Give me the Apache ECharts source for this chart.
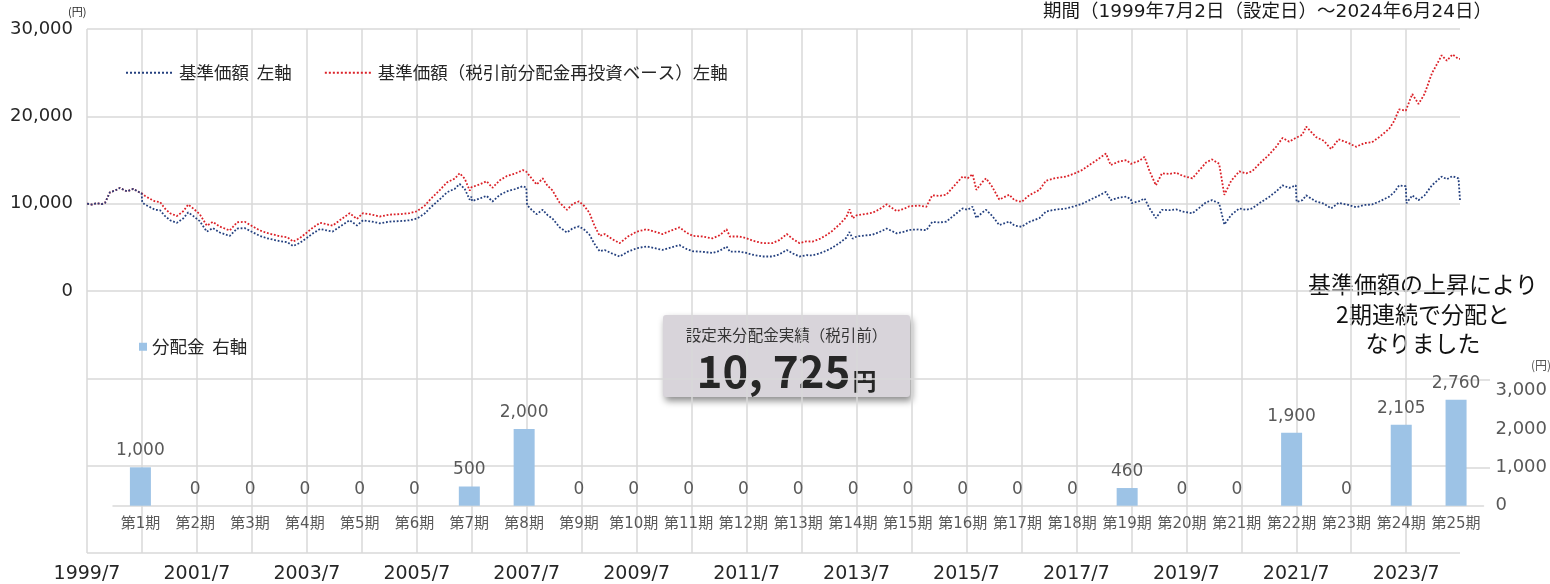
<!DOCTYPE html>
<html>
<head>
<meta charset="utf-8">
<script src="https://cdn.jsdelivr.net/npm/echarts@6/dist/echarts.min.js"></script>
<style>
html,body{margin:0;padding:0;background:#fff;}
#c{width:1550px;height:584px;}
</style>
</head>
<body>
<div id="c"></div>
<script>
// ---- data ----
const dates = [
'1999/07/02','1999/08/03','1999/09/06','1999/10/08','1999/10/30','1999/12/01','2000/01/05','2000/02/06','2000/03/25','2000/05/04','2000/06/14','2000/06/29',
'2000/07/03','2000/07/20','2000/08/25','2000/09/28','2000/10/30','2000/12/01','2001/01/05','2001/02/20','2001/04/01','2001/05/04','2001/06/06','2001/07/20',
'2001/09/06','2001/10/16','2001/12/01','2002/02/06','2002/03/25','2002/05/15','2002/07/09','2002/08/25','2002/10/08','2003/01/05','2003/02/24','2003/04/01',
'2003/05/15','2003/07/02','2003/08/11','2003/09/28','2003/11/10','2003/12/20','2004/02/06','2004/04/12','2004/05/30','2004/07/09','2004/09/06','2004/10/30',
'2005/01/05','2005/03/10','2005/05/15','2005/07/02','2005/08/25','2005/09/28','2005/12/01','2006/01/19','2006/03/10','2006/04/12','2006/05/15','2006/06/18',
'2006/06/30','2006/07/03','2006/08/25','2006/10/08','2006/11/17','2007/01/05','2007/02/20','2007/04/12','2007/06/06','2007/06/29','2007/07/03','2007/08/03',
'2007/09/06','2007/10/16','2007/11/17','2007/12/20','2008/02/06','2008/03/25','2008/05/04','2008/06/14','2008/07/20','2008/08/22','2008/09/25','2008/10/30',
'2008/12/01','2009/01/19','2009/03/10','2009/05/04','2009/07/02','2009/09/06','2009/10/30','2009/12/20','2010/02/20','2010/04/12','2010/05/30','2010/07/09',
'2010/09/12','2010/11/17','2011/01/05','2011/02/20','2011/03/12','2011/05/15','2011/07/02','2011/08/11','2011/10/16','2011/12/20','2012/02/06','2012/03/25',
'2012/05/04','2012/06/18','2012/08/03','2012/09/12','2012/10/30','2012/12/12','2013/01/22','2013/03/10','2013/04/25','2013/05/15','2013/06/06','2013/07/02',
'2013/08/25','2013/10/16','2013/12/01','2014/01/19','2014/03/25','2014/05/15','2014/06/18','2014/08/22','2014/10/08','2014/11/17','2015/01/05','2015/02/20',
'2015/04/12','2015/06/06','2015/07/09','2015/08/11','2015/09/06','2015/10/16','2015/11/10','2015/12/20','2016/02/06','2016/04/12','2016/05/15','2016/07/02',
'2016/08/22','2016/10/30','2016/12/12','2017/02/06','2017/04/25','2017/06/18','2017/08/11','2017/10/08','2017/12/01','2018/01/15','2018/02/16','2018/04/12',
'2018/05/30','2018/06/29','2018/07/03','2018/08/25','2018/09/28','2018/10/30','2018/12/12','2019/01/22','2019/03/10','2019/04/25','2019/06/06','2019/08/11',
'2019/09/28','2019/11/10','2019/12/20','2020/02/06','2020/03/10','2020/04/25','2020/06/18','2020/08/03','2020/09/12','2020/10/30','2021/01/05','2021/02/20',
'2021/04/01','2021/05/15','2021/06/29','2021/07/03','2021/08/11','2021/09/06','2021/10/08','2021/11/10','2022/01/01','2022/02/20','2022/04/08','2022/06/14',
'2022/08/03','2022/09/28','2022/11/17','2023/01/05','2023/03/10','2023/04/12','2023/05/15','2023/06/29','2023/07/03','2023/08/11','2023/09/22','2023/11/01',
'2023/12/20','2024/01/29','2024/02/24','2024/03/28','2024/05/04','2024/06/14','2024/06/24'
];
const navValues = [
10000,9900,10050,9950,10100,11300,11500,11800,11400,11700,11300,11200,
10150,9900,9600,9300,9250,8600,8100,7800,8300,9000,8600,8000,
6800,7200,6700,6300,7150,7200,6700,6300,6050,5700,5600,5150,
5500,6100,6600,7100,6950,6800,7350,8100,7500,8100,7950,7750,
7950,8000,8100,8300,8900,9500,10500,11300,11700,12250,11700,10450,
10800,10300,10600,10900,10250,11000,11400,11650,12000,11850,9850,9300,
8800,9300,8700,8300,7300,6700,7200,7400,7000,6450,5400,4550,
4700,4300,3950,4500,4900,5100,4900,4700,5000,5250,4800,4550,
4500,4350,4600,5100,4500,4500,4350,4150,3950,3950,4200,4700,
4300,3950,4100,4080,4300,4600,4950,5500,6100,6750,6000,6250,
6350,6450,6750,7150,6600,6800,7000,7050,6950,7900,7850,7950,
8700,9450,9300,9650,8350,9000,9300,8600,7550,7950,7500,7350,
7900,8350,9100,9300,9450,9700,10000,10500,10950,11350,10400,10700,
10800,10500,10050,10300,10600,9500,8350,9300,9250,9350,9100,8900,
9550,10150,10400,10050,7600,8700,9450,9300,9450,10050,10800,11400,
12100,11800,12100,10200,10400,10950,10600,10250,10000,9450,10100,9850,
9600,9850,9900,10250,10800,11300,12100,12000,10050,10950,10400,10950,
12100,12700,13100,12800,13150,12900,10400
];
const reinvValues = [
10000,9900,10050,9950,10100,11300,11500,11800,11400,11700,11300,11200,
11150,10900,10550,10250,10200,9450,8900,8580,9130,9900,9460,8800,
7480,7920,7370,6930,7870,7920,7370,6930,6650,6270,6160,5660,
6050,6710,7260,7810,7650,7480,8090,8910,8250,8910,8750,8530,
8750,8800,8910,9130,9790,10450,11550,12430,12870,13480,12870,11500,
11880,11880,12220,12570,11820,12680,13150,13430,13840,13660,13660,12900,
12200,12900,12070,11510,10130,9290,9990,10260,9710,8950,7490,6310,
6520,5960,5480,6240,6800,7070,6800,6520,6940,7280,6660,6310,
6240,6030,6380,7070,6240,6240,6030,5760,5480,5480,5830,6520,
5960,5480,5690,5660,5960,6380,6870,7630,8460,9360,8320,8670,
8810,8950,9360,9920,9150,9430,9710,9780,9640,10960,10890,11030,
12070,13110,12900,13390,11580,12480,12900,11930,10470,11030,10400,10200,
10960,11580,12620,12900,13110,13450,13870,14560,15190,15740,14420,14840,
14980,14560,14560,14920,15360,13770,12100,13480,13400,13550,13190,12900,
13840,14710,15070,14560,11010,12610,13700,13480,13700,14560,15650,16520,
17530,17100,17530,17530,17890,18830,18230,17630,17200,16250,17370,16940,
16510,16940,17030,17630,18580,19440,20810,20640,20700,22560,21420,22560,
24930,26160,26990,26370,27090,26570,26570
];
const periodLabels = ['第1期','第2期','第3期','第4期','第5期','第6期','第7期','第8期','第9期','第10期','第11期','第12期','第13期','第14期','第15期','第16期','第17期','第18期','第19期','第20期','第21期','第22期','第23期','第24期','第25期'];
const dividends = [1000,0,0,0,0,0,500,2000,0,0,0,0,0,0,0,0,0,0,460,0,0,1900,0,2105,2760];
const navName = '基準価額  左軸';
const reinvName = '基準価額（税引前分配金再投資ベース）左軸';
const barName = '分配金  右軸';
const periodText = '期間（1999年7月2日（設定日）～2024年6月24日）';
const noteText = '基準価額の上昇により\n2期連続で分配と\nなりました';
const boxTitle = '設定来分配金実績（税引前）';

// ---- helpers ----
const toYear = s => { const [y, m, d] = s.split('/').map(Number); return y + (m - 1 + (d - 1) / 31) / 12; };
const fmt = v => Math.round(v).toLocaleString('en-US');
const xs = dates.map(toYear);
const navData = xs.map((x, i) => [x, navValues[i]]);
const reinvData = xs.map((x, i) => [x, reinvValues[i]]);
const total = dividends.reduce((a, b) => a + b, 0);
const totalText = Math.floor(total / 1000) + ', ' + String(total % 1000).padStart(3, '0');
const startYear = 1999.5;

const FONT = '"DejaVu Sans", "Noto Sans CJK JP", sans-serif';
const CJK = '"Noto Sans CJK JP", sans-serif';
const gridColor = '#d9d9d9';

const chart = echarts.init(document.getElementById('c'), null, {renderer: 'canvas'});
chart.setOption({
  animation: false,
  backgroundColor: '#fff',
  textStyle: {fontFamily: FONT},
  grid: [
    {left: 87, top: 29, width: 1373, height: 526},
    {left: 113, top: 390.5, width: 1378, height: 115.2},
    {left: 1460, top: 380, width: 30, height: 87.7}
  ],
  xAxis: [
    {
      type: 'value', gridIndex: 0, min: startYear, max: xs[xs.length - 1], interval: 1,
      axisLine: {show: false}, axisTick: {show: false},
      splitLine: {show: true, showMaxLine: false, lineStyle: {color: gridColor, width: 1.5}},
      axisLabel: {
        fontSize: 19, color: '#262626', margin: 12, fontFamily: FONT,
        formatter: v => {
          const k = Math.round(v - startYear);
          if (Math.abs(v - (startYear + k)) > 1e-6 || k % 2 !== 0) return '';
          return (1999 + k) + '/7';
        }
      }
    },
    {
      type: 'category', gridIndex: 1, data: periodLabels,
      axisLine: {show: true, lineStyle: {color: gridColor, width: 1.5}},
      axisTick: {show: false},
      axisLabel: {fontSize: 15, color: '#595959', margin: 11, fontFamily: FONT, interval: 0}
    },
    {type: 'value', gridIndex: 2, min: 0, max: 1, show: false}
  ],
  yAxis: [
    {
      type: 'value', gridIndex: 0, min: -30000, max: 30000, interval: 10000,
      axisLine: {show: false}, axisTick: {show: false},
      splitLine: {show: true, lineStyle: {color: gridColor, width: 1.5}},
      axisLabel: {fontSize: 18, color: '#262626', margin: 14, fontFamily: FONT,
        formatter: v => v >= 0 ? fmt(v) : ''}
    },
    {
      type: 'value', gridIndex: 1, position: 'right', min: 0, max: 3000, interval: 1000,
      axisLine: {show: false}, axisTick: {show: false}, splitLine: {show: false},
      axisLabel: {fontSize: 18, color: '#595959', margin: 12, fontFamily: FONT, formatter: v => fmt(v)}
    },
    {
      type: 'value', gridIndex: 2, min: -20000, max: -10000, interval: 10000,
      axisLine: {show: false}, axisTick: {show: false}, axisLabel: {show: false},
      splitLine: {show: true, lineStyle: {color: gridColor, width: 1.5}}
    }
  ],
  legend: [
    {
      data: [navName, reinvName], left: 120, top: 59, itemWidth: 48, itemHeight: 14, itemGap: 32,
      itemStyle: {opacity: 0},
      textStyle: {fontSize: 17.5, color: '#262626', fontFamily: CJK}
    },
    {
      data: [barName], left: 134, top: 333, icon: 'rect', itemWidth: 8, itemHeight: 8,
      textStyle: {fontSize: 17.5, color: '#262626', fontFamily: CJK}
    }
  ],
  series: [
    {
      name: navName, type: 'line', xAxisIndex: 0, yAxisIndex: 0, data: navData,
      showSymbol: false, symbol: 'none', z: 4,
      itemStyle: {color: '#24407f'},
      lineStyle: {color: '#24407f', width: 1.8, type: 'dotted'}
    },
    {
      name: reinvName, type: 'line', xAxisIndex: 0, yAxisIndex: 0, data: reinvData,
      showSymbol: false, symbol: 'none', z: 3,
      itemStyle: {color: '#db2128'},
      lineStyle: {color: '#db2128', width: 1.8, type: 'dotted'}
    },
    {
      name: barName, type: 'bar', xAxisIndex: 1, yAxisIndex: 1, data: dividends,
      barWidth: 21, itemStyle: {color: '#9dc3e6'},
      label: {show: true, position: 'top', distance: 8, fontSize: 17, color: '#595959',
        fontFamily: FONT, formatter: p => fmt(p.value)}
    }
  ],
  graphic: [
    {type: 'text', left: 68, top: 6, style: {text: '(円)', fill: '#262626', font: '11px ' + CJK}},
    {type: 'text', left: 1531, top: 359, style: {text: '(円)', fill: '#595959', font: '12px ' + CJK}},
    {type: 'text', right: 58, top: 3, style: {text: periodText, fill: '#1a1a1a', font: '18.5px ' + FONT}},
    {type: 'text', x: 1423, y: 270, style: {text: noteText, fill: '#111', font: '23px ' + CJK,
      align: 'center', lineHeight: 29.5}},
    {
      type: 'group', x: 663, y: 315, z: 100,
      children: [
        {type: 'rect', shape: {x: 0, y: 0, width: 247, height: 82, r: 3},
          style: {fill: '#d8d4da', shadowBlur: 7, shadowOffsetX: 2, shadowOffsetY: 4, shadowColor: 'rgba(0,0,0,0.45)'}},
        {type: 'text', x: 123.5, y: 12, style: {text: boxTitle, fill: '#333', font: '15.5px ' + CJK, align: 'center'}},
        {type: 'text', x: 123.5, y: 34, style: {
          text: '{n|' + totalText + '}{u|円}', align: 'center',
          rich: {
            n: {fontSize: 44, fontWeight: 'bold', fontFamily: CJK, fill: '#262626', lineHeight: 44, verticalAlign: 'bottom'},
            u: {fontSize: 24, fontWeight: 'bold', fontFamily: CJK, fill: '#262626', lineHeight: 44, verticalAlign: 'bottom', padding: [0, 0, 0, 2]}
          }
        }}
      ]
    }
  ]
});
</script>
</body>
</html>
